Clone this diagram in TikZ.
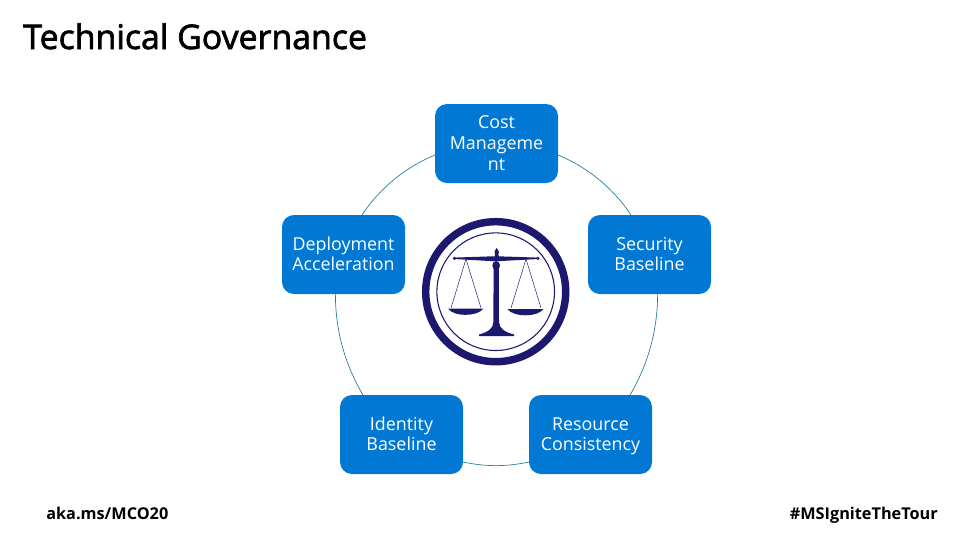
\documentclass[tikz,border=0pt]{standalone}
\usepackage{fontspec}
\setmainfont{Open Sans}
\newfontfamily\titlefont[FakeBold=2]{Open Sans}
\definecolor{boxblue}{RGB}{0,120,212}
\definecolor{ringline}{RGB}{40,120,155}
\definecolor{navy}{RGB}{27,24,110}
\newcommand{\tl}{\rule{0pt}{12.4pt}}
\newcommand{\bl}{\vphantom{y}}
\tikzset{
  x=0.75pt,y=-0.75pt,
  govbox/.style={draw=none,fill=boxblue,rounded corners=9pt,minimum width=92.25pt,minimum height=59.25pt,inner sep=0pt,text=white,align=center,font=\fontsize{13.4pt}{15pt}\selectfont},
  ringarc/.style={draw=ringline,line width=0.5pt},
  captext/.style={inner sep=0pt,anchor=base west},
  logoline/.style={draw=navy,line width=0.35pt},
  logofill/.style={fill=navy,draw=none}
}
\begin{document}
\begin{tikzpicture}
\useasboundingbox (0,0) rectangle (960,540);
\fill[white] (0,0) rectangle (960,540);
% boxes
\node[govbox] (cost) at (496.5,143.5) {\tl Cost\\[0.75pt]Manageme\\[0.75pt]\bl nt};
\node[govbox] (deploy) at (343.5,254.5) {\tl Deployment\\\bl Acceleration};
\node[govbox] (secure) at (649.5,254.5) {\tl Security\\\bl Baseline};
\node[govbox] (identity) at (401.5,434.5) {\tl Identity\\\bl Baseline};
\node[govbox] (resource) at (590.5,434.5) {\tl Resource\\\bl Consistency};
% connector ends on the box borders
\coordinate (c1) at (558,155);
\coordinate (s1) at (631,215);
\coordinate (s2) at (657.6,294);
\coordinate (r1) at (630,395);
\coordinate (r2) at (529,462);
\coordinate (i2) at (463,462);
\coordinate (i1) at (363,395);
\coordinate (d2) at (335.4,294);
\coordinate (d1) at (362,215);
\coordinate (c2) at (435,155);
\draw[ringarc] (c1) to[bend left=17,looseness=0.87] (s1);
\draw[ringarc] (s2) to[bend left=15.3,looseness=0.88] (r1);
\draw[ringarc] (r2) to[bend left=12,looseness=0.9] (i2);
\draw[ringarc] (i1) to[bend left=15.3,looseness=0.88] (d2);
\draw[ringarc] (d1) to[bend left=17,looseness=0.87] (c2);
% scales emblem
\draw[navy,line width=5.6pt] (495.7,291.7) circle[radius=70];
\draw[navy,line width=0.8pt] (495.7,291.7) circle[radius=58.8];
\fill[logofill] (454,257.6) -- (490,256.4) -- (501,256.4) -- (538,257.6) -- (538,259) -- (501,261) -- (490,261) -- (454,259) -- cycle;
\fill[logofill] (454.5,258.3) circle[radius=1.7];
\fill[logofill] (538,258.3) circle[radius=1.7];
\fill[logofill] (496.7,248) .. controls (499,251) and (499.5,253) .. (498.5,255) -- (499,258) -- (494.4,258) -- (494.9,255) .. controls (494,253) and (494.5,251) .. (496.7,248) -- cycle;
\fill[logofill] (496.2,265.5) ellipse[x radius=3.8,y radius=4.6];
\fill[logofill] (493.6,262) -- (498.8,262) -- (499,322) .. controls (499.5,329) and (505,332) .. (514,334.5) -- (514,336) -- (479,336) -- (479,334.5) .. controls (488,332) and (493,329) .. (493.4,322) -- cycle;
\draw[logoline] (466,259) -- (451,308);
\draw[logoline] (466,259) -- (481,308);
\draw[logoline] (526,259) -- (511,308);
\draw[logoline] (526,259) -- (541,308);
\fill[logofill] (448,308.5) -- (483.5,308.5) .. controls (480,313) and (473,314.8) .. (465.7,314.8) .. controls (458,314.8) and (451,313) .. (448,308.5) -- cycle;
\fill[logofill] (507.3,309) -- (543.5,309) .. controls (540,313.5) and (533,315.3) .. (525.4,315.3) .. controls (518,315.3) and (511,313.5) .. (507.3,309) -- cycle;
% captions
\node[captext,font=\titlefont\fontsize{25.4pt}{28pt}\selectfont] (title) at (23,49) {Technical Governance};
\node[captext,font=\bfseries\fontsize{12.2pt}{15pt}\selectfont] (aka) at (46,519) {aka.ms/MCO20};
\node[inner sep=0pt,anchor=base east,font=\bfseries\fontsize{12.2pt}{15pt}\selectfont] (tag) at (938,519) {\#MSIgniteTheTour};
\end{tikzpicture}
\end{document}
